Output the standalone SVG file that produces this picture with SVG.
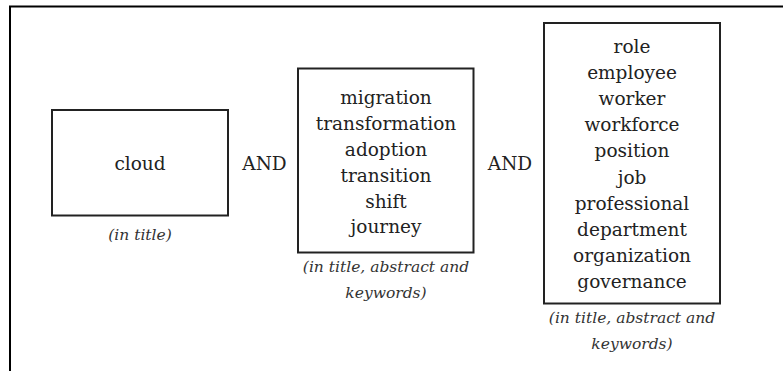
<svg xmlns="http://www.w3.org/2000/svg" width="783" height="371" viewBox="0 0 783 371">
<style>
.frame{fill:none;stroke:#000;stroke-width:2}
.box{fill:#fff;stroke:#222;stroke-width:2}
.t{font-family:"DejaVu Serif","Liberation Serif",serif;font-size:18.5px;fill:#222;text-anchor:middle}
.c{font-family:"DejaVu Serif","Liberation Serif",serif;font-style:italic;font-size:15.5px;fill:#333;text-anchor:middle}
</style>
<rect width="783" height="371" fill="#fff"/>
<path class="frame" d="M10,371 V6.5 H783"/>
<g id="node-cloud">
<rect class="box" x="52" y="110" width="176" height="105.5"/>
<text class="t" x="140" y="170">cloud</text>
<text class="c" x="140" y="240">(in title)</text>
</g>
<g id="op-and-1">
<text class="t" x="264.5" y="170">AND</text>
</g>
<g id="node-transition">
<rect class="box" x="298" y="68.5" width="175.5" height="184"/>
<text class="t" x="386" y="104.3">migration</text>
<text class="t" x="386" y="130.1">transformation</text>
<text class="t" x="386" y="155.9">adoption</text>
<text class="t" x="386" y="181.7">transition</text>
<text class="t" x="386" y="207.5">shift</text>
<text class="t" x="386" y="233.3">journey</text>
<text class="c" x="386" y="272">(in title, abstract and</text>
<text class="c" x="386" y="298">keywords)</text>
</g>
<g id="op-and-2">
<text class="t" x="510" y="170">AND</text>
</g>
<g id="node-role">
<rect class="box" x="544" y="23" width="176" height="280.5"/>
<text class="t" x="632" y="52.5">role</text>
<text class="t" x="632" y="78.7">employee</text>
<text class="t" x="632" y="104.9">worker</text>
<text class="t" x="632" y="131.1">workforce</text>
<text class="t" x="632" y="157.3">position</text>
<text class="t" x="632" y="183.5">job</text>
<text class="t" x="632" y="209.7">professional</text>
<text class="t" x="632" y="235.9">department</text>
<text class="t" x="632" y="262.1">organization</text>
<text class="t" x="632" y="288.3">governance</text>
<text class="c" x="632" y="323.3">(in title, abstract and</text>
<text class="c" x="632" y="349.3">keywords)</text>
</g>
<g id="connectors"></g>
</svg>
